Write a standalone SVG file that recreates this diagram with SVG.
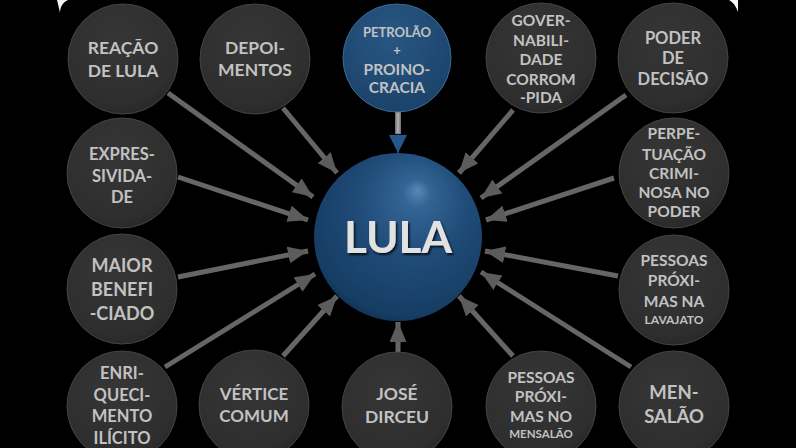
<svg xmlns="http://www.w3.org/2000/svg" width="796" height="448" viewBox="0 0 796 448">
  <defs>
    <radialGradient id="gNode" cx="0.45" cy="0.35" r="0.7">
      <stop offset="0" stop-color="#363636"/>
      <stop offset="0.8" stop-color="#2e2e2e"/>
      <stop offset="1" stop-color="#262626"/>
    </radialGradient>
    <radialGradient id="gBlueNode" cx="0.45" cy="0.3" r="0.75">
      <stop offset="0" stop-color="#285783"/>
      <stop offset="1" stop-color="#1a4169"/>
    </radialGradient>
    <radialGradient id="gSphere" cx="0.55" cy="0.4" r="0.7" fx="0.62" fy="0.22">
      <stop offset="0" stop-color="#5a88b3"/>
      <stop offset="0.12" stop-color="#336494"/>
      <stop offset="0.45" stop-color="#204c79"/>
      <stop offset="0.85" stop-color="#163d63"/>
      <stop offset="1" stop-color="#0c2440"/>
    </radialGradient>
    <linearGradient id="gPetroShaft" x1="0" y1="0" x2="1" y2="0">
      <stop offset="0" stop-color="#6a6a6a"/>
      <stop offset="0.5" stop-color="#b4b4b4"/>
      <stop offset="1" stop-color="#6a6a6a"/>
    </linearGradient>
    <marker id="head" viewBox="0 0 20 17" refX="20" refY="8.5" markerWidth="20" markerHeight="17" markerUnits="userSpaceOnUse" orient="auto">
      <path d="M0,0 L20,8.5 L0,17 Z" fill="#5c5c5c"/>
    </marker>
    <marker id="headBlue" viewBox="0 0 18 18" refX="18" refY="9" markerWidth="18" markerHeight="18" markerUnits="userSpaceOnUse" orient="auto">
      <path d="M0,0 L18,9 L0,18 Z" fill="#24578a"/>
    </marker>
    <filter id="shadow" x="-20%" y="-20%" width="140%" height="140%">
      <feDropShadow dx="1.5" dy="2" stdDeviation="1" flood-color="#000" flood-opacity="0.8"/>
    </filter>
  </defs>
  <style>
    .node { fill: url(#gNode); stroke: #444; stroke-width: 1; }
    .blue { fill: url(#gBlueNode); stroke: #3c6a95; stroke-width: 1; }
    .lbl { font-family: "Lato", "Open Sans", sans-serif; font-weight: bold; fill: #c2c2c2; text-anchor: middle; }
    .conn { stroke: #666; stroke-width: 5; fill: none; marker-end: url(#head); }
  </style>

  <rect width="796" height="448" fill="#000"/>
  <!-- light frame corners peeking at the top edge -->
  <path d="M57,0 L68,0 C63,2 60,7 60,13 C59,8 58,4 57,0 Z" fill="#f4f4f4"/>
  <path d="M729,0 L738,0 L738,12 C736,6 733,2 729,0 Z" fill="#f4f4f4"/>

  <g id="connectors">
    <line class="conn" x1="168" y1="93" x2="313" y2="197"/>
    <line class="conn" x1="283" y1="108" x2="337" y2="173"/>
    <line class="conn" x1="178" y1="177" x2="308" y2="220"/>
    <line class="conn" x1="178" y1="277" x2="308" y2="251"/>
    <line class="conn" x1="165" y1="367" x2="315" y2="274"/>
    <line class="conn" x1="283" y1="356" x2="337" y2="296"/>
    <line class="conn" x1="398" y1="352" x2="398" y2="322"/>
    <line class="conn" x1="513" y1="356" x2="459" y2="296"/>
    <line class="conn" x1="631" y1="367" x2="481" y2="272"/>
    <line class="conn" x1="618" y1="276" x2="485" y2="251"/>
    <line class="conn" x1="614" y1="178" x2="486" y2="220"/>
    <line class="conn" x1="626" y1="95" x2="481" y2="198"/>
    <line class="conn" x1="513" y1="110" x2="459" y2="173"/>
    <rect x="395" y="110" width="6" height="24" fill="url(#gPetroShaft)"/>
    <line x1="398" y1="133" x2="398" y2="153" stroke="#24578a" stroke-width="1" marker-end="url(#headBlue)"/>
  </g>

  <g id="lula">
    <circle cx="398" cy="237" r="84" fill="url(#gSphere)"/>
    <text x="398" y="253" font-family="Lato, 'Open Sans', sans-serif" font-weight="bold" font-size="44" fill="#e2e2e2" text-anchor="middle" filter="url(#shadow)">LULA</text>
  </g>

  <g id="reacao-de-lula">
    <circle class="node" cx="123" cy="59" r="55"/>
    <text class="lbl" font-size="17.5"><tspan x="123" y="54">REAÇÃO</tspan><tspan x="123" y="77">DE LULA</tspan></text>
  </g>
  <g id="depoimentos">
    <circle class="node" cx="255" cy="59" r="55"/>
    <text class="lbl" font-size="17.5"><tspan x="255" y="54">DEPOI-</tspan><tspan x="255" y="76">MENTOS</tspan></text>
  </g>
  <g id="petrolao-proinocracia">
    <circle class="blue" cx="397" cy="58" r="54"/>
    <text class="lbl" font-size="13"><tspan x="397" y="37">PETROLÃO</tspan><tspan x="397" y="55">+</tspan></text>
    <text class="lbl" font-size="15.5"><tspan x="397" y="75">PROINO-</tspan><tspan x="397" y="93">CRACIA</tspan></text>
  </g>
  <g id="governabilidade">
    <circle class="node" cx="541" cy="58" r="55"/>
    <text class="lbl" font-size="15.5"><tspan x="541" y="26">GOVER-</tspan><tspan x="541" y="46">NABILI-</tspan><tspan x="541" y="65">DADE</tspan><tspan x="541" y="85">CORROM</tspan><tspan x="541" y="103">-PIDA</tspan></text>
  </g>
  <g id="poder-de-decisao">
    <circle class="node" cx="673" cy="58" r="55"/>
    <text class="lbl" font-size="16.5"><tspan x="673" y="44">PODER</tspan><tspan x="673" y="64">DE</tspan><tspan x="673" y="85">DECISÃO</tspan></text>
  </g>
  <g id="expressividade">
    <circle class="node" cx="122" cy="173" r="55"/>
    <text class="lbl" font-size="16.5"><tspan x="122" y="160">EXPRES-</tspan><tspan x="122" y="182">SIVIDA-</tspan><tspan x="122" y="203">DE</tspan></text>
  </g>
  <g id="perpetuacao">
    <circle class="node" cx="674" cy="173" r="55"/>
    <text class="lbl" font-size="15.5"><tspan x="674" y="139">PERPE-</tspan><tspan x="674" y="160">TUAÇÃO</tspan><tspan x="674" y="179">CRIMI-</tspan><tspan x="674" y="198">NOSA NO</tspan><tspan x="674" y="217">PODER</tspan></text>
  </g>
  <g id="maior-beneficiado">
    <circle class="node" cx="122" cy="289" r="55"/>
    <text class="lbl" font-size="18"><tspan x="122" y="272">MAIOR</tspan><tspan x="122" y="296">BENEFI</tspan><tspan x="122" y="320">-CIADO</tspan></text>
  </g>
  <g id="pessoas-lavajato">
    <circle class="node" cx="674" cy="290" r="55"/>
    <text class="lbl" font-size="15.5"><tspan x="674" y="266">PESSOAS</tspan><tspan x="674" y="286">PRÓXI-</tspan><tspan x="674" y="307">MAS NA</tspan></text>
    <text class="lbl" font-size="12" x="674" y="324">LAVAJATO</text>
  </g>
  <g id="enriquecimento">
    <circle class="node" cx="122" cy="406" r="55"/>
    <text class="lbl" font-size="16.5"><tspan x="122" y="379">ENRI-</tspan><tspan x="122" y="401">QUECI-</tspan><tspan x="122" y="422">MENTO</tspan><tspan x="122" y="444">ILÍCITO</tspan></text>
  </g>
  <g id="vertice-comum">
    <circle class="node" cx="254" cy="405" r="55"/>
    <text class="lbl" font-size="17"><tspan x="254" y="400">VÉRTICE</tspan><tspan x="254" y="422">COMUM</tspan></text>
  </g>
  <g id="jose-dirceu">
    <circle class="node" cx="397" cy="407" r="55"/>
    <text class="lbl" font-size="17.5"><tspan x="397" y="400">JOSÉ</tspan><tspan x="397" y="423">DIRCEU</tspan></text>
  </g>
  <g id="pessoas-mensalao">
    <circle class="node" cx="541" cy="406" r="55"/>
    <text class="lbl" font-size="15.5"><tspan x="541" y="383">PESSOAS</tspan><tspan x="541" y="402">PRÓXI-</tspan><tspan x="541" y="422">MAS NO</tspan></text>
    <text class="lbl" font-size="11.5" x="541" y="438">MENSALÃO</text>
  </g>
  <g id="mensalao">
    <circle class="node" cx="674" cy="406" r="55"/>
    <text class="lbl" font-size="18.5"><tspan x="674" y="399">MEN-</tspan><tspan x="674" y="423">SALÃO</tspan></text>
  </g>
</svg>
